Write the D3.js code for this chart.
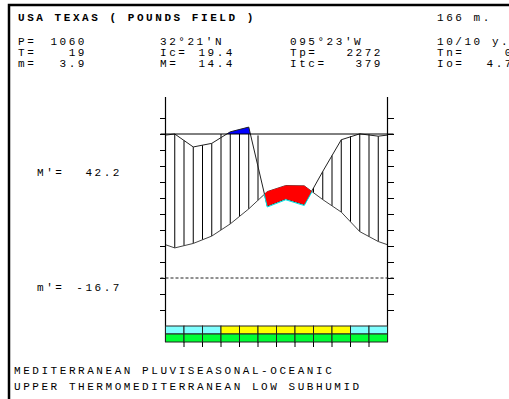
<!DOCTYPE html>
<html lang="en">
<head>
<meta charset="utf-8">
<title>USA Texas (Pounds Field) bioclimatic diagram</title>
<script src="https://cdn.jsdelivr.net/npm/d3@7"></script>
<style>
  html, body { margin: 0; padding: 0; background: #fff; overflow: hidden; }
  text { font-family: "Liberation Mono", "Courier New", monospace; font-size: 11px; letter-spacing: 2.55px; fill: #000; }
  .title { font-weight: bold; }
</style>
</head>
<body>
<script>
// ---- data ----
var months = ["J", "F", "M", "A", "M", "J", "J", "A", "S", "O", "N", "D"];
// mean monthly temperature (C)
var temp = [9.4, 10.8, 13.1, 16.9, 21.6, 27.0, 28.9, 28.8, 24.5, 20.6, 14.5, 11.4];
// monthly precipitation (mm), above 100 mm drawn at 1/10
var prec = [100, 91, 93.5, 115, 148, 50, 55, 51, 74, 96, 101, 98.5];
// upper band of the month strip
var bandTop = ["cool", "cool", "cool", "warm", "warm", "warm", "warm", "warm", "warm", "warm", "cool", "cool"];

var title = "USA TEXAS ( POUNDS FIELD )";
var altitude = "166 m.";
var infoLeft = [["P=", "1060"], ["T=", "19"], ["m=", "3.9"]];
var infoMid = [["32\u00b021'N", ""], ["Ic=", "19.4"], ["M=", "14.4"]];
var infoRight = [["095\u00b023'W", ""], ["Tp=", "2272"], ["Itc=", "379"]];
var infoFar = [["10/10 y.", ""], ["Tn=", "0"], ["Io=", "4.7"]];
var absMax = "42.2", absMin = "-16.7";
var classLines = ["MEDITERRANEAN PLUVISEASONAL-OCEANIC", "UPPER THERMOMEDITERRANEAN LOW SUBHUMID"];

var w = 509, h = 399;
var svg = d3.select("body").append("svg").attr("width", w).attr("height", h);

// frame
svg.append("rect").attr("x", 9).attr("y", 5).attr("width", 600).attr("height", 500)
   .attr("fill", "#fff").attr("stroke", "#000").attr("stroke-width", 2.5);

// scales
var x = d3.scaleLinear().domain([0, 12]).range([165.5, 387.5]);
var yT = d3.scaleLinear().domain([-15, 50]).range([326, 118]);
var yP = d3.scaleLinear().domain([0, 100, 1000]).range([yT(0), yT(45), yT(45) - 900 * 0.144]);
var lineY = yP(100);
var topY = 97, stripTop = yT(-15), stripMid = stripTop + 8, stripBot = stripTop + 16;

// curve points: month centres plus the two edges (mean of Dec and Jan)
var pts = [{ m: 0, t: (temp[0] + temp[11]) / 2, p: (prec[0] + prec[11]) / 2 }];
months.forEach(function(d, i) { pts.push({ m: i + 0.5, t: temp[i], p: prec[i] }); });
pts.push({ m: 12, t: pts[0].t, p: pts[0].p });

function interp(key, m) {
  for (var i = 0; i < pts.length - 1; i++) {
    if (m >= pts[i].m && m <= pts[i + 1].m) {
      var f = (m - pts[i].m) / (pts[i + 1].m - pts[i].m);
      return pts[i][key] + f * (pts[i + 1][key] - pts[i][key]);
    }
  }
  return pts[pts.length - 1][key];
}

var defs = svg.append("defs");
// region below the temperature curve
defs.append("clipPath").attr("id", "belowT").append("path")
    .attr("d", d3.area().x(function(d) { return x(d.m); }).y0(h).y1(function(d) { return yT(d.t); })(pts));
// region below the precipitation curve
defs.append("clipPath").attr("id", "belowP").append("path")
    .attr("d", d3.area().x(function(d) { return x(d.m); }).y0(h).y1(function(d) { return yP(d.p); })(pts));

// hatching where rain is above temperature
var g = svg.append("g");
d3.range(1, 24).forEach(function(k) {
  var m = k / 2;
  var y1 = Math.max(yP(interp("p", m)), lineY), y2 = yT(interp("t", m));
  if (y2 - y1 > 0.5) {
    g.append("line").attr("x1", x(m)).attr("x2", x(m)).attr("y1", y1).attr("y2", y2)
     .attr("stroke", "#000").attr("stroke-width", 1);
  }
});

// excess rain (above 100 mm): between the 100 mm line and the curve
g.append("rect").attr("x", x(0)).attr("y", 0).attr("width", x(8) - x(0)).attr("height", lineY)
 .attr("fill", "#0000ff").attr("clip-path", "url(#belowP)");
g.append("rect").attr("x", x(8)).attr("y", 0).attr("width", x(12) - x(8)).attr("height", lineY)
 .attr("fill", "#999900").attr("clip-path", "url(#belowP)");

// curves
var line = d3.line().x(function(d) { return x(d.m); });
g.append("path").datum(pts).attr("fill", "none").attr("stroke", "#444").attr("stroke-width", 1)
 .attr("d", line.y(function(d) { return yT(d.t); }));
g.append("path").datum(pts).attr("fill", "none").attr("stroke", "#222").attr("stroke-width", 1)
 .attr("d", line.y(function(d) { return yP(d.p); }));

// dry period: above the rain curve and below the temperature curve
var dry = g.append("g").attr("clip-path", "url(#belowT)");
dry.append("path").datum(pts).attr("fill", "#ff0000")
   .attr("d", d3.area().x(function(d) { return x(d.m); }).y0(0).y1(function(d) { return yP(d.p); }));
dry.append("path").datum(pts).attr("fill", "none").attr("stroke", "#00e0e0").attr("stroke-width", 1)
   .attr("transform", "translate(0,1)")
   .attr("d", d3.line().x(function(d) { return x(d.m); }).y(function(d) { return yP(d.p); }));

// axes
var ticks = d3.range(-15, 51, 5);
var axL = d3.axisLeft(yT).tickValues(ticks.slice(1)).tickSize(5.5).tickFormat("");
var axR = d3.axisRight(yT).tickValues(ticks.slice(1)).tickSize(6.5).tickFormat("");
[svg.append("g").attr("transform", "translate(" + x(0) + ",0)").call(axL),
 svg.append("g").attr("transform", "translate(" + x(12) + ",0)").call(axR)].forEach(function(a) {
  a.select(".domain").remove();
  a.selectAll("line").attr("stroke", "#000");
});
svg.selectAll(".vaxis").data([0, 12]).enter().append("line").attr("class", "vaxis")
   .attr("x1", function(d) { return x(d); }).attr("x2", function(d) { return x(d); })
   .attr("y1", topY).attr("y2", stripBot).attr("stroke", "#000").attr("stroke-width", 1.2);

// 100 mm line and 0 C line
svg.append("line").attr("x1", x(0) - 5).attr("x2", x(12) + 6).attr("y1", lineY).attr("y2", lineY)
   .attr("stroke", "#000").attr("stroke-width", 1);
svg.append("line").attr("x1", x(0) - 5).attr("x2", x(12) + 6).attr("y1", yT(0)).attr("y2", yT(0))
   .attr("stroke", "#222").attr("stroke-width", 1).attr("stroke-dasharray", "3,2");

// month strip
var bandColor = d3.scaleOrdinal().domain(["cool", "warm"]).range(["#80ffff", "#ffff00"]);
var strip = svg.append("g");
strip.selectAll(".top").data(bandTop).enter().append("rect")
     .attr("x", function(d, i) { return x(i); }).attr("y", stripTop)
     .attr("width", x(1) - x(0)).attr("height", stripMid - stripTop)
     .attr("fill", bandColor).attr("stroke", "#222").attr("stroke-width", 1);
strip.selectAll(".bot").data(months).enter().append("rect")
     .attr("x", function(d, i) { return x(i); }).attr("y", stripMid)
     .attr("width", x(1) - x(0)).attr("height", stripBot - stripMid)
     .attr("fill", "#00ff33").attr("stroke", "#222").attr("stroke-width", 1);
strip.selectAll(".mt").data(d3.range(1, 12)).enter().append("line")
     .attr("x1", function(d) { return x(d); }).attr("x2", function(d) { return x(d); })
     .attr("y1", stripBot).attr("y2", stripBot + 5).attr("stroke", "#000");

// texts
function row(list, xl, xr, y0) {
  list.forEach(function(d, i) {
    var yy = y0 + i * 11;
    svg.append("text").attr("x", xl).attr("y", yy).attr("dy", "0.35em").text(d[0]);
    if (d[1] !== "") svg.append("text").attr("x", xr).attr("y", yy).attr("dy", "0.35em")
                        .attr("text-anchor", "end").text(d[1]);
  });
}
svg.append("text").attr("class", "title").attr("x", 18).attr("y", 17).attr("dy", "0.35em").text(title);
svg.append("text").attr("x", 437).attr("y", 17).attr("dy", "0.35em").text(altitude);
row(infoLeft, 18, 87, 41);
row(infoMid, 160, 235, 41);
row(infoRight, 290, 383, 41);
row(infoFar, 437, 514, 41);

svg.append("text").attr("x", 37).attr("y", 172).attr("dy", "0.35em").text("M'=");
svg.append("text").attr("x", 122).attr("y", 172).attr("dy", "0.35em").attr("text-anchor", "end").text(absMax);
svg.append("text").attr("x", 37).attr("y", 287).attr("dy", "0.35em").text("m'=");
svg.append("text").attr("x", 122).attr("y", 287).attr("dy", "0.35em").attr("text-anchor", "end").text(absMin);

classLines.forEach(function(s, i) {
  svg.append("text").attr("x", 14).attr("y", 370 + i * 16).attr("dy", "0.35em").text(s);
});
</script>
</body>
</html>
